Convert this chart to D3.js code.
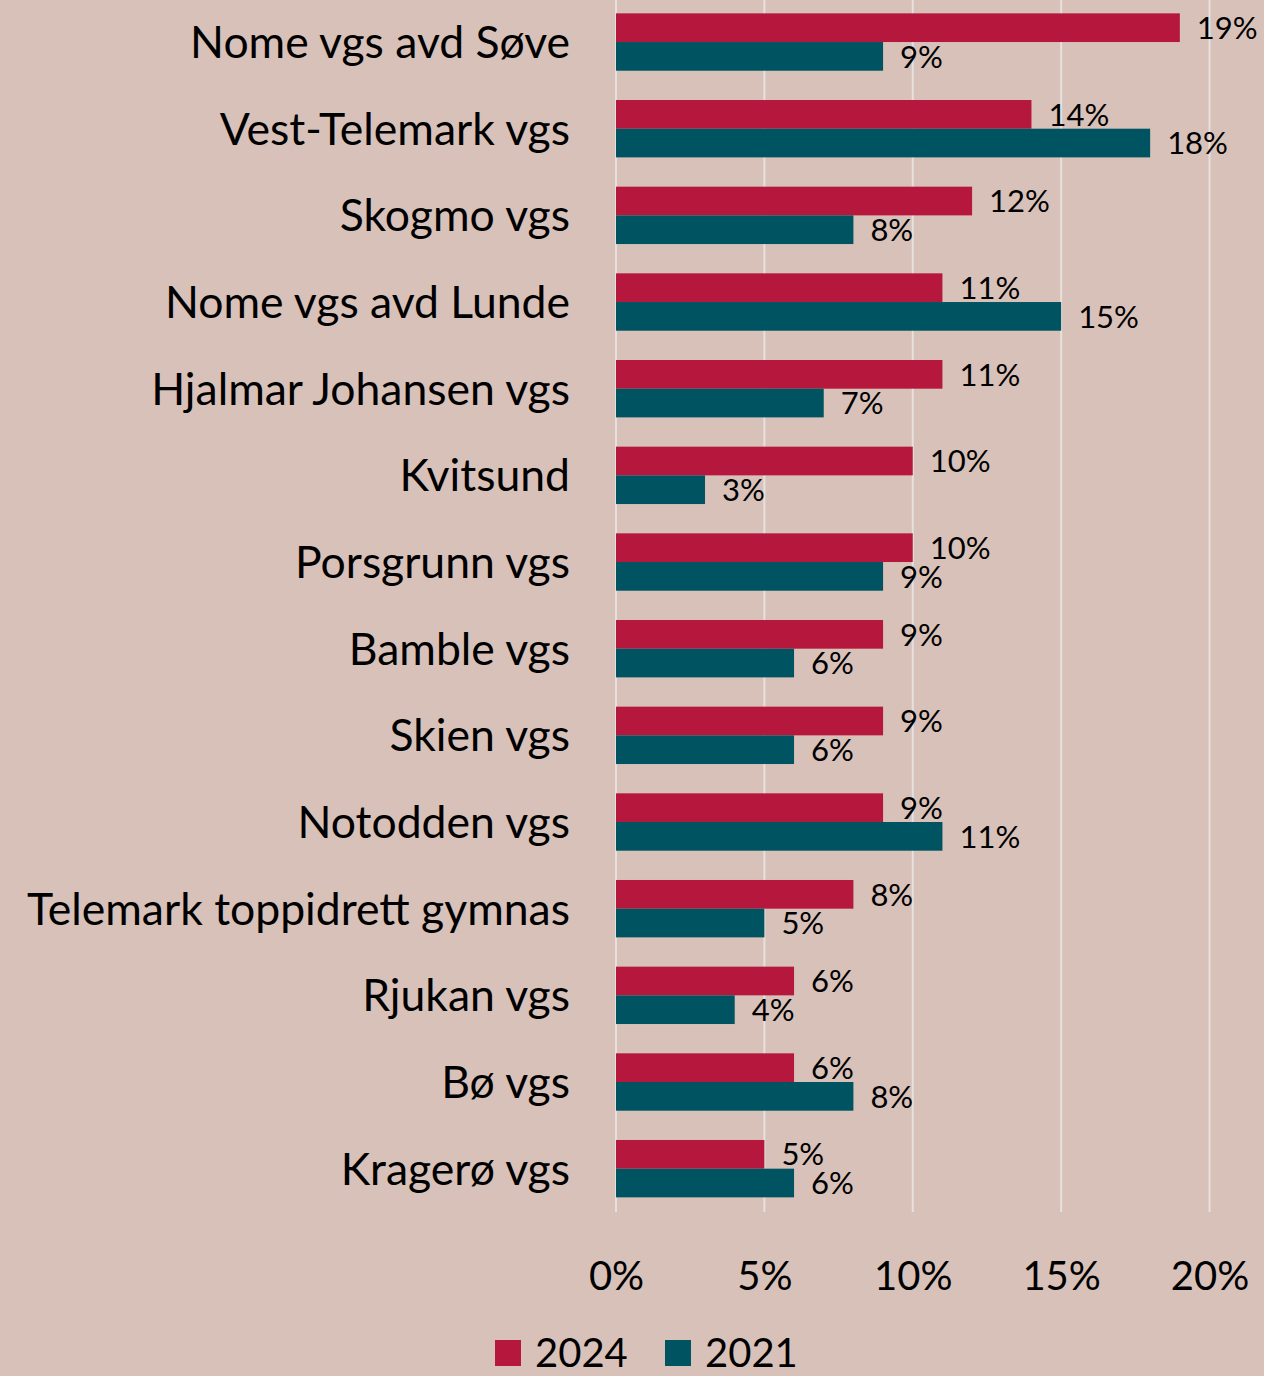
<!DOCTYPE html>
<html>
<head>
<meta charset="utf-8">
<script src="https://cdn.jsdelivr.net/npm/d3@7"></script>
<style>
  html, body { margin: 0; padding: 0; background: #D8C1B9; }
  svg { display: block; font-family: Lato, "Noto Sans", sans-serif; }
</style>
</head>
<body>
<div id="chart"></div>
<script>
// --- Daten ---
const skoler = [
  "Nome vgs avd Søve", "Vest-Telemark vgs", "Skogmo vgs", "Nome vgs avd Lunde",
  "Hjalmar Johansen vgs", "Kvitsund", "Porsgrunn vgs", "Bamble vgs", "Skien vgs",
  "Notodden vgs", "Telemark toppidrett gymnas", "Rjukan vgs", "Bø vgs", "Kragerø vgs"
];
const aar = ["2024", "2021"];
const verdier2024 = [19, 14, 12, 11, 11, 10, 10, 9, 9, 9, 8, 6, 6, 5];
const verdier2021 = [9, 18, 8, 15, 7, 3, 9, 6, 6, 11, 5, 4, 8, 6];
const xTicks = [0, 5, 10, 15, 20];
const farger = ["#B5183C", "#005360"];

// --- Oppsett ---
const width = 1264, height = 1376;
const plotLeft = 616, plotRight = 1209.5, plotTop = -1.3, plotBottom = 1212;

const svg = d3.select("#chart").append("svg")
  .attr("width", width).attr("height", height);

svg.append("rect").attr("width", width).attr("height", height).attr("fill", "#D8C1B9");

const x = d3.scaleLinear().domain([0, 20]).range([plotLeft, plotRight]);
const y = d3.scaleBand().domain(skoler).range([plotTop, plotBottom])
  .paddingInner(0.338).paddingOuter(0.169);
const ySub = d3.scaleBand().domain(aar).range([0, y.bandwidth()]);

const rows = skoler.map((s, i) => ({ skole: s, verdier: [verdier2024[i], verdier2021[i]] }));

// Rutenett
svg.append("g").selectAll("line").data(xTicks).join("line")
  .attr("x1", d => x(d)).attr("x2", d => x(d))
  .attr("y1", 0).attr("y2", plotBottom)
  .attr("stroke", "#E6E0DE").attr("stroke-width", 2);

// Søyler
const grp = svg.append("g").selectAll("g").data(rows).join("g")
  .attr("transform", d => `translate(0,${y(d.skole)})`);

grp.selectAll("rect").data(d => d.verdier.map((v, j) => ({ v, aar: aar[j], j }))).join("rect")
  .attr("x", x(0))
  .attr("y", d => ySub(d.aar))
  .attr("width", d => x(d.v) - x(0))
  .attr("height", ySub.bandwidth())
  .attr("fill", d => farger[d.j]);

grp.selectAll("text").data(d => d.verdier.map((v, j) => ({ v, aar: aar[j] }))).join("text")
  .attr("x", d => x(d.v) + 17)
  .attr("y", d => ySub(d.aar) + ySub.bandwidth() / 2)
  .attr("dy", "0.36em")
  .attr("font-size", 31)
  .attr("fill", "#000")
  .text(d => d.v + "%");

// Kategoriakse
const yAxis = svg.append("g")
  .attr("transform", `translate(570,0)`)
  .call(d3.axisLeft(y).tickSize(0).tickPadding(0));
yAxis.select(".domain").remove();
yAxis.selectAll("text").attr("font-size", 44.5).attr("font-family", "Lato, sans-serif")
  .attr("fill", "#000").attr("dy", "0.36em");

// Verdiakse
const xAxis = svg.append("g")
  .attr("transform", `translate(0,1262)`)
  .call(d3.axisBottom(x).tickValues(xTicks).tickFormat(d => d + "%").tickSize(0).tickPadding(0));
xAxis.select(".domain").remove();
xAxis.selectAll("text").attr("font-size", 40).attr("font-family", "Lato, sans-serif")
  .attr("fill", "#000").attr("dy", "0.71em");

// Tegnforklaring
const legendX = [495, 665];
const legend = svg.append("g").selectAll("g").data(aar).join("g")
  .attr("transform", (d, i) => `translate(${legendX[i]},1340)`);
legend.append("rect").attr("width", 26).attr("height", 26)
  .attr("fill", (d, i) => farger[i]);
legend.append("text").attr("x", 40).attr("y", 13).attr("dy", "0.36em")
  .attr("font-size", 40).attr("fill", "#000").text(d => d);
</script>
</body>
</html>
